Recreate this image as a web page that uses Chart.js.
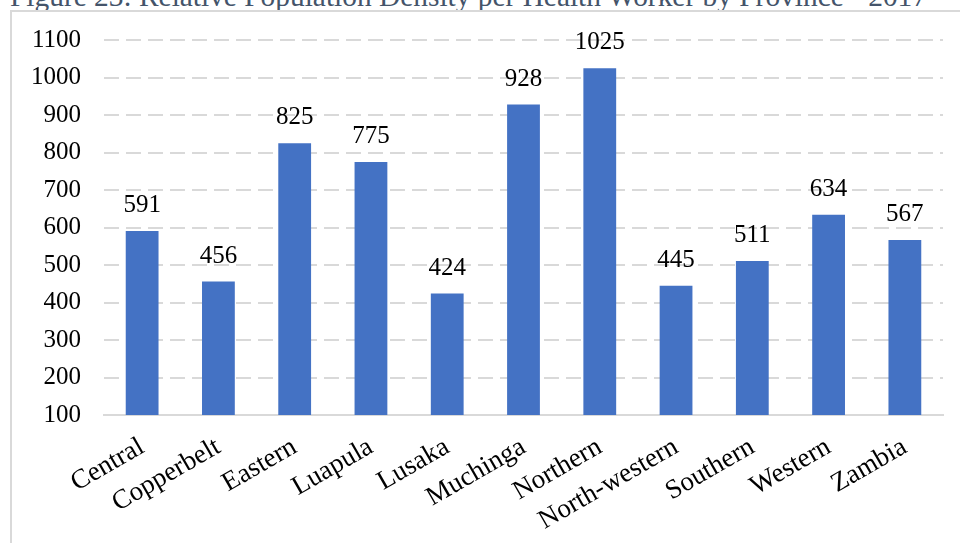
<!DOCTYPE html>
<html>
<head>
<meta charset="utf-8">
<title>Relative Population Density per Health Worker by Province - 2017</title>
<script src="https://cdn.jsdelivr.net/npm/chart.js@4/dist/chart.umd.min.js"></script>
<style>
  html, body { margin: 0; padding: 0; background: #fff; overflow: hidden; }
  #page { position: relative; width: 960px; height: 543px; }
  #caption {
    position: absolute; left: 10px; top: -18px;
    font: 29.4px "Liberation Serif", "Times New Roman", serif;
    line-height: 1; color: #44546A; white-space: nowrap;
  }
  #frame {
    position: absolute; left: 10px; top: 10px; width: 980px; height: 560px;
    border-left: 2px solid #d9d9d9; border-top: 2px solid #d9d9d9;
  }
  #chart { position: absolute; left: 0; top: 0; }
</style>
</head>
<body>
<div id="page">
  <div id="caption">Figure 23: Relative Population Density per Health Worker by Province - 2017</div>
  <div id="frame"></div>
  <canvas id="chart" width="960" height="543"></canvas>
</div>
<script>
const provinces = ['Central', 'Copperbelt', 'Eastern', 'Luapula', 'Lusaka', 'Muchinga',
                   'Northern', 'North-western', 'Southern', 'Western', 'Zambia'];
const densityPerWorker = [591, 456, 825, 775, 424, 928, 1025, 445, 511, 634, 567];
const yTicks = [100, 200, 300, 400, 500, 600, 700, 800, 900, 1000, 1100];

const SERIF = '"Liberation Serif", "Times New Roman", serif';
const BAR_BLUE = '#4472C4';
const GRID = '#d9d9d9';

// value printed above each bar
const barValues = {
  id: 'barValues',
  afterDatasetsDraw(chart) {
    const ctx = chart.ctx;
    const meta = chart.getDatasetMeta(0);
    ctx.save();
    ctx.font = '25px ' + SERIF;
    ctx.fillStyle = '#000';
    ctx.textAlign = 'center';
    ctx.textBaseline = 'alphabetic';
    meta.data.forEach((bar, i) => {
      ctx.fillText(String(densityPerWorker[i]), bar.x, bar.y - 19);
    });
    ctx.restore();
  }
};

new Chart(document.getElementById('chart'), {
  type: 'bar',
  data: {
    labels: provinces,
    datasets: [{
      data: densityPerWorker,
      backgroundColor: BAR_BLUE,
      borderWidth: 0,
      barPercentage: 0.43,
      categoryPercentage: 1
    }]
  },
  options: {
    responsive: false,
    animation: false,
    events: [],
    layout: { padding: { top: 40, right: 17, left: 0, bottom: 0 } },
    plugins: {
      legend: { display: false },
      tooltip: { enabled: false }
    },
    scales: {
      x: {
        grid: { display: false, drawTicks: false },
        border: { display: true, color: GRID, width: 2 },
        ticks: {
          color: '#000',
          font: { family: SERIF, size: 27 },
          minRotation: 30,
          maxRotation: 30,
          autoSkip: false,
          padding: 16
        },
        afterFit(axis) { axis.height = 128; }
      },
      y: {
        min: 100,
        max: 1100,
        afterBuildTicks(axis) { axis.ticks = yTicks.map(v => ({ value: v })); },
        grid: { color: GRID, lineWidth: 2, drawTicks: false },
        border: { display: false, dash: [15, 7] },
        ticks: {
          color: '#000',
          font: { family: SERIF, size: 25 },
          padding: 23,
          callback: v => String(v)
        },
        afterFit(axis) { axis.width = 104; }
      }
    }
  },
  plugins: [barValues]
});
</script>
</body>
</html>
